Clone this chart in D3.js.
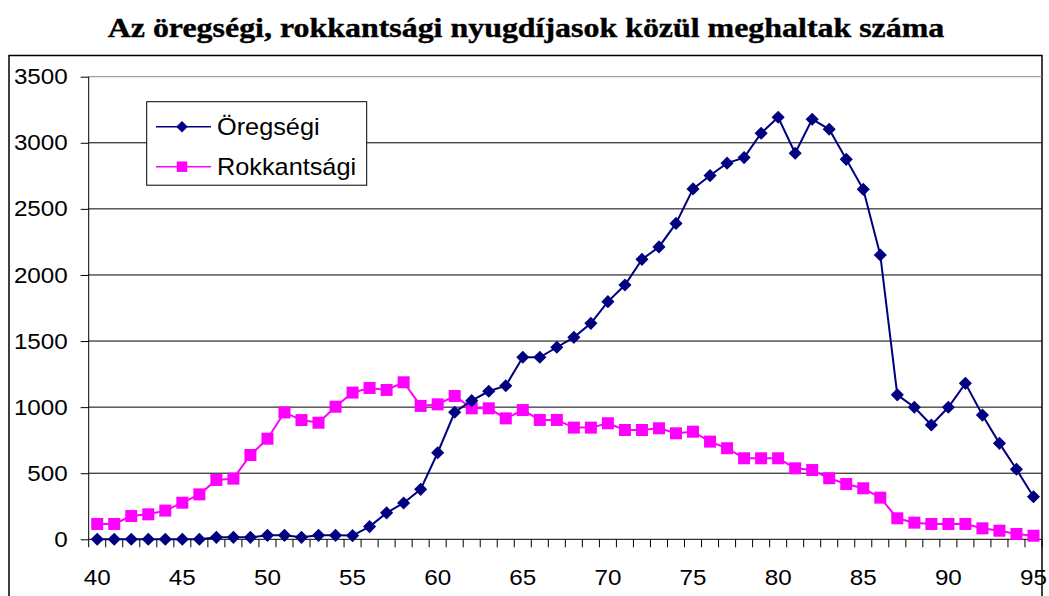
<!DOCTYPE html>
<html>
<head>
<meta charset="utf-8">
<script src="https://cdn.jsdelivr.net/npm/d3@7"></script>
<style>
  html, body { margin: 0; padding: 0; background: #fff; }
  svg { display: block; }
  .axis text { font-family: "Liberation Sans", Arial, sans-serif; font-size: 22px; fill: #000; }
  .axis path { display: none; }
  .axis line { stroke: #000; }
</style>
</head>
<body>
<svg id="chart" width="1049" height="596"></svg>
<script>
// ages on the category axis
var ages = d3.range(40, 96);
var ageLabels = [40, 45, 50, 55, 60, 65, 70, 75, 80, 85, 90, 95];
var yTicks = [0, 500, 1000, 1500, 2000, 2500, 3000, 3500];

// Öregségi (old-age pensioners)
var oregsegi = [0, 0, 0, 0, 0, 0, 0, 15, 15, 15,
	30, 30, 15, 30, 30, 28, 96, 200, 275, 378,
	655, 961, 1049, 1120, 1162, 1377, 1377, 1453, 1528, 1634,
	1798, 1924, 2118, 2212, 2390, 2651, 2752, 2846, 2888, 3072,
	3193, 2921, 3178, 3102, 2875, 2648, 2151, 1093, 999, 865,
	999, 1180, 940, 726, 530, 322];

// Rokkantsági (disability pensioners)
var rokkantsagi = [116, 116, 176, 189, 217, 277, 340, 449, 459, 638,
	761, 960, 902, 882, 1003, 1110, 1145, 1130, 1188, 1009,
	1021, 1084, 991, 991, 915, 978, 903, 903, 845, 845,
	878, 827, 827, 840, 802, 814, 739, 689, 613, 613,
	613, 537, 524, 462, 418, 386, 315, 159, 126, 116,
	116, 116, 83, 65, 40, 27];

var seriesNames = ["Öregségi", "Rokkantsági"];
var seriesColors = ["#000080", "#ff00ff"];

var svg = d3.select("#chart");
var plot = {left: 88.7, right: 1042, top: 76.7, bottom: 539.3};
var stretch = 1.1; // the original text is a bit wider than the fonts we have

var x = d3.scaleBand().domain(ages).range([plot.left, plot.right]).padding(0);
var y = d3.scaleLinear().domain([0, 3500]).range([plot.bottom, plot.top]);
var cx = function(age){ return x(age) + x.bandwidth() / 2; };

// outer chart frame
svg.append("rect")
	.attr("x", 9).attr("y", 55.5)
	.attr("width", 1033).attr("height", 560)
	.attr("fill", "none").attr("stroke", "#000").attr("stroke-width", 1.5);

// title
svg.append("text")
	.attr("transform", "translate(526,37) scale(1.14,1)")
	.attr("text-anchor", "middle")
	.style("font-family", "'Liberation Serif', 'Times New Roman', serif")
	.style("font-weight", "bold")
	.style("font-size", "28px")
	.style("stroke", "#000").style("stroke-width", 0.4)
	.text("Az öregségi, rokkantsági nyugdíjasok közül meghaltak száma");

// gridlines
svg.append("g").selectAll("line")
	.data(yTicks.filter(function(d){ return d > 0; }))
	.join("line")
	.attr("x1", plot.left).attr("x2", plot.right)
	.attr("y1", function(d){ return y(d); }).attr("y2", function(d){ return y(d); })
	.attr("stroke", function(d){ return d === 3500 ? "#888" : "#000"; })
	.attr("stroke-width", 1);

// y axis
var yAxis = svg.append("g")
	.attr("class", "axis")
	.attr("transform", "translate(" + plot.left + ",0)")
	.call(d3.axisLeft(y).tickValues(yTicks).tickFormat(d3.format("d")).tickSize(8).tickPadding(13));
yAxis.selectAll("text")
	.attr("x", -21 / stretch)
	.attr("transform", "scale(" + stretch + ",1)");

svg.append("line")
	.attr("x1", plot.left).attr("x2", plot.left)
	.attr("y1", plot.top).attr("y2", plot.bottom)
	.attr("stroke", "#000");

// x axis: tick marks between categories, labels every 5 years
var edges = ages.map(function(a){ return x(a); }).concat([plot.right]);
svg.append("g").selectAll("line")
	.data(edges)
	.join("line")
	.attr("x1", function(d){ return d; }).attr("x2", function(d){ return d; })
	.attr("y1", plot.bottom).attr("y2", plot.bottom + 8)
	.attr("stroke", "#000");

var xAxis = svg.append("g")
	.attr("class", "axis")
	.attr("transform", "translate(0," + plot.bottom + ")")
	.call(d3.axisBottom(x).tickValues(ageLabels).tickSize(0).tickPadding(30));
xAxis.selectAll("text").attr("transform", "scale(" + stretch + ",1)");

svg.append("line")
	.attr("x1", plot.left).attr("x2", plot.right)
	.attr("y1", plot.bottom).attr("y2", plot.bottom)
	.attr("stroke", "#000");

// series
var diamond = d3.symbol().type(d3.symbolDiamond2);
var square = d3.symbol().type(d3.symbolSquare);

function drawSeries(values, color, symbolGen, size){
	var pts = ages.map(function(a, i){ return [cx(a), y(values[i])]; });
	svg.append("path")
		.datum(pts)
		.attr("d", d3.line())
		.attr("fill", "none")
		.attr("stroke", color)
		.attr("stroke-width", 2);
	svg.append("g").selectAll("path")
		.data(pts)
		.join("path")
		.attr("transform", function(d){ return "translate(" + d[0] + "," + d[1] + ")"; })
		.attr("d", symbolGen.size(size))
		.attr("fill", color);
}

drawSeries(rokkantsagi, seriesColors[1], square, 144);
drawSeries(oregsegi, seriesColors[0], diamond, 110);

// legend
var legend = svg.append("g");
legend.append("rect")
	.attr("x", 146.7).attr("y", 101.7)
	.attr("width", 220).attr("height", 83.5)
	.attr("fill", "#fff").attr("stroke", "#000");

var legendRows = [
	{name: seriesNames[0], color: seriesColors[0], sym: d3.symbol().type(d3.symbolDiamond2).size(85), cy: 126.7},
	{name: seriesNames[1], color: seriesColors[1], sym: d3.symbol().type(d3.symbolSquare).size(110), cy: 166.7}
];
legendRows.forEach(function(r){
	legend.append("line")
		.attr("x1", 156).attr("x2", 211)
		.attr("y1", r.cy).attr("y2", r.cy)
		.attr("stroke", r.color).attr("stroke-width", 1.5);
	legend.append("path")
		.attr("transform", "translate(182," + r.cy + ")")
		.attr("d", r.sym)
		.attr("fill", r.color);
	legend.append("text")
		.attr("transform", "translate(217," + r.cy + ") scale(" + stretch + ",1)")
		.attr("dy", "0.35em")
		.style("font-family", "'Liberation Sans', Arial, sans-serif")
		.style("font-size", "23px")
		.text(r.name);
});
</script>
</body>
</html>
